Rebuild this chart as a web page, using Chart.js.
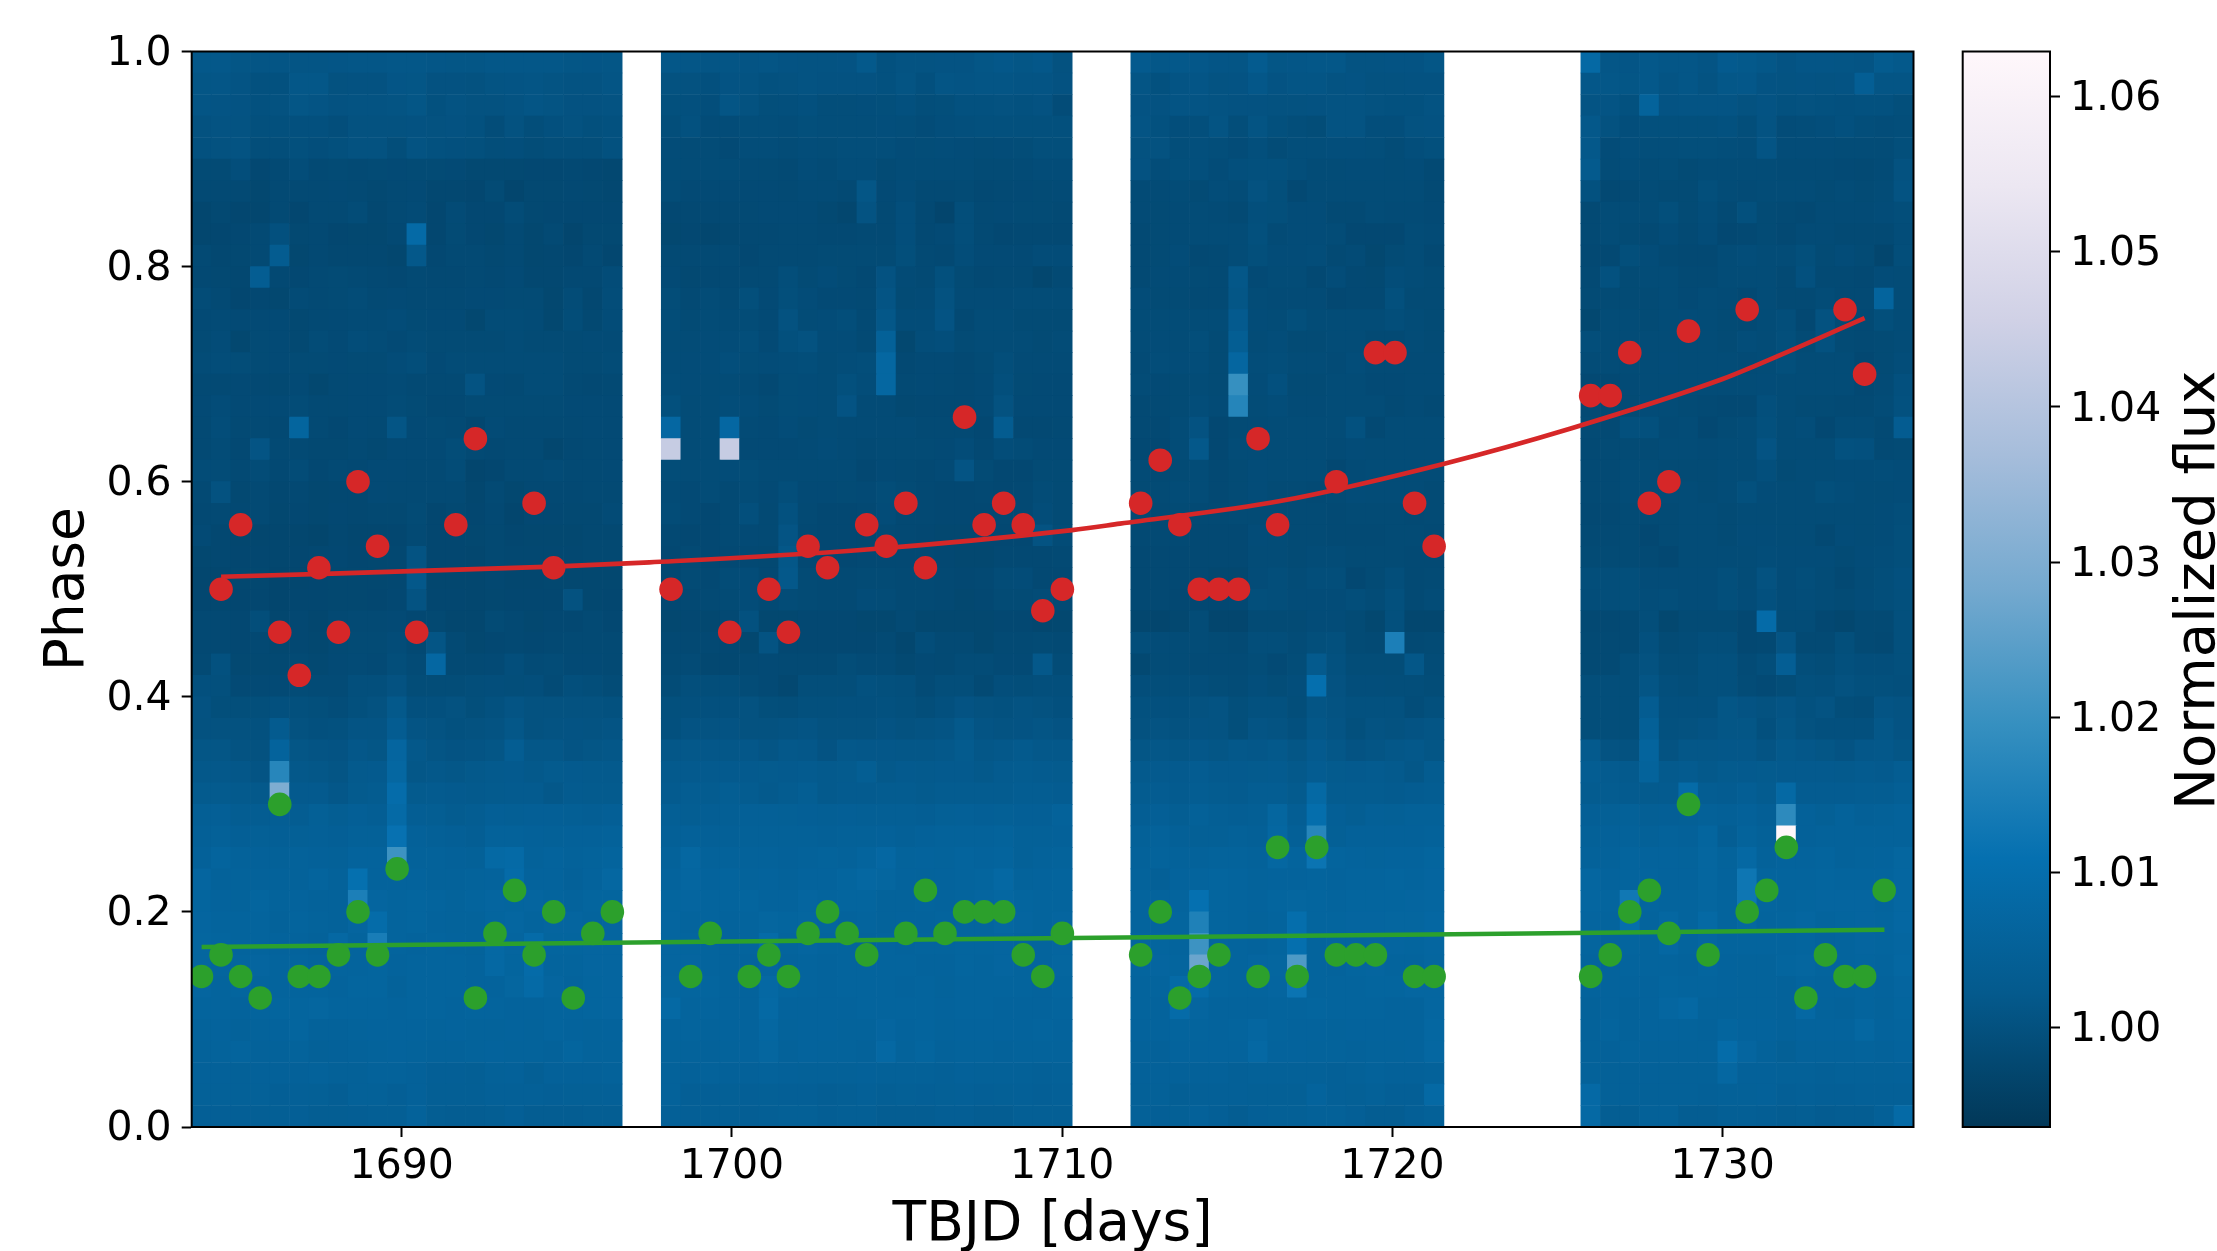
<!DOCTYPE html>
<html>
  <head>
    <meta charset="utf-8" />
    <title>Phase map</title>
    <script src="https://cdn.jsdelivr.net/npm/chart.js@4/dist/chart.umd.js"></script>
    <style>
      html, body { margin: 0; background: white; }
      canvas { position: absolute; left: 0; top: 0; }
    </style>
  </head>
  <body>
    <canvas id="mapChart" width="2217" height="1251"></canvas>
    <canvas id="barChart" width="2217" height="1251"></canvas>

    <script>
    // grid of the map: one cell per stellar rotation, 50 phase bins
    const firstTime = 1683.64;
    const cellDays = 0.5925;
    const phaseStep = 0.02;
    const blockStart = [0, 24, 48, 71]; // first cell of each data block, the rest are gaps

    // flux, as (flux - 1) * 10000, rows go from phase 1 down to phase 0
    const fluxBlock1 = [
      [18,17,12,10,9,10,10,11,13,13,15,15,13,12,12,14,15,14,15,12,11,12],
      [12,13,8,-1,0,14,15,2,3,3,11,12,3,3,2,7,8,9,7,5,5,9],
      [10,8,6,0,1,12,8,3,4,4,7,12,-1,4,1,1,4,10,7,3,3,4],
      [1,4,5,-3,-3,-2,-2,-7,1,1,2,3,2,3,-1,-10,1,-9,-2,1,-3,-1],
      [0,1,5,-8,-8,-3,-7,-3,2,2,-9,4,0,-2,-4,-9,-7,-11,-8,-8,-8,-1],
      [-16,-16,-7,-22,-18,-10,-18,-16,-19,-16,-17,-16,-16,-17,-21,-21,-21,-22,-22,-20,-22,-23],
      [-19,-19,-18,-24,-18,-18,-18,-17,-19,-21,-19,-17,-23,-23,-25,-16,-28,-21,-21,-20,-21,-23],
      [-27,-21,-25,-27,-19,-25,-19,-19,-13,-23,-19,-15,-25,-15,-22,-22,-14,-21,-22,-22,-22,-22],
      [-26,-25,-22,-18,-2,-21,-20,-25,-24,-24,-20,85,-25,-16,-22,-24,-19,-24,-18,-28,-21,-21],
      [-19,-23,-21,-19,30,-24,-20,-23,-23,-23,-26,18,-22,-19,-19,-21,-18,-24,-23,-25,-19,-25],
      [-20,-21,-23,35,-20,-22,-19,-16,-18,-20,-22,-19,-20,-20,-18,-20,-17,-23,-23,-20,-20,-12],
      [-14,-19,-25,-22,-24,-15,-18,-16,-14,-18,-17,-18,-19,-19,-17,-17,-16,-16,-24,-14,-23,-10],
      [-17,-15,-17,-17,-17,-21,-18,-17,-15,-15,-12,-16,-17,-17,-24,-14,-14,-15,-24,-11,-21,-12],
      [-16,-12,-24,-16,-17,-21,-14,-17,-10,-13,-17,-13,-16,-16,-16,-16,-13,-16,-16,-16,-15,-15],
      [-13,-10,-11,-16,-17,-16,-16,-17,-16,-16,-12,-9,-17,-13,-14,-14,-13,-13,-13,-16,-16,-13],
      [-18,-18,-17,-20,-21,-17,-24,-19,-17,-17,-15,-18,-18,-18,5,-17,-18,-14,-14,-19,-20,-19],
      [-17,-12,-17,-17,-17,-13,-18,-18,-17,-17,-13,-16,-20,-20,-16,-16,-16,-16,-16,-17,-17,-17],
      [-19,-10,-19,-19,-20,65,-18,-22,-17,-18,10,-17,-16,-18,-25,-15,-18,-18,-18,-18,-17,-17],
      [-18,-14,-20,8,-19,-19,-21,-21,-19,-21,-17,-17,-17,-11,-19,-20,-19,-18,-26,-20,-18,-17],
      [-14,-14,-19,-14,-20,-14,-22,-19,-20,-17,-17,-18,-18,-13,-28,-25,-19,-18,-15,-19,-18,-17],
      [-18,2,-21,-18,-23,-20,-24,-23,-23,-17,-19,-19,-18,-18,-27,-19,-24,-20,-20,-20,-19,-19],
      [-20,-19,-20,-18,-24,-22,-24,-22,-23,-21,-21,-16,-25,-21,-25,-20,-28,-22,-22,-21,-21,-15],
      [-17,-23,-26,-26,-26,-26,-29,-23,-26,-26,-25,-18,-25,-25,-24,-21,-25,-24,-24,-24,-21,-21],
      [-24,-23,-25,-25,-26,-25,-23,-22,-25,-24,-23,5,-25,-25,-27,-21,-23,-23,-23,-23,-21,-21],
      [-26,-26,-24,-24,-28,-26,-25,-24,-24,-24,-23,18,-26,-26,-26,-23,-26,-26,-24,-24,-24,-24],
      [-25,-24,-25,-25,-28,-25,-25,-24,-24,-25,-22,5,-25,-25,-26,-24,-25,-25,-25,2,-24,-25],
      [-20,-20,-22,-8,-26,-22,-26,-20,-18,-18,-17,-22,-21,-26,-26,-16,-20,-24,-22,-22,-18,-22],
      [-20,-20,-22,-20,-24,-22,-24,-18,-16,-16,-12,-20,10,-18,-24,-22,-20,-22,-20,-18,-18,-18],
      [-19,0,-21,-21,-21,-19,-21,-17,-15,-17,-9,-15,75,-19,-19,-17,-7,-15,-13,-17,-17,-19],
      [-2,-4,-17,-17,-17,-13,-15,-15,-5,-5,3,-11,-11,-11,-9,-7,-9,-7,-15,-5,-9,-13],
      [3,-6,-6,-6,-2,-4,-6,-10,-4,2,20,-2,-2,2,-6,0,8,2,2,2,2,0],
      [2,2,2,0,28,2,-2,0,8,8,32,8,4,0,2,4,15,2,4,6,4,8],
      [12,12,4,2,60,12,8,6,16,12,66,18,10,6,8,12,35,14,14,8,12,14],
      [18,18,16,8,170,18,14,10,22,24,72,14,18,14,20,22,24,20,26,24,22,22],
      [26,26,22,20,300,24,24,16,26,30,95,26,28,24,22,26,28,28,18,28,26,26],
      [42,44,36,34,40,36,46,38,44,40,85,40,38,30,34,44,42,44,44,42,40,44],
      [48,50,44,46,44,46,48,44,50,50,112,52,48,44,40,56,56,52,50,52,52,54],
      [52,62,54,52,50,54,52,50,60,60,205,54,56,52,50,80,85,56,60,56,58,62],
      [66,56,58,56,56,56,62,54,108,60,60,60,56,56,58,60,90,60,60,52,60,72],
      [64,60,58,64,58,60,56,54,150,66,62,64,62,58,62,66,64,66,62,60,64,64],
      [66,62,62,62,56,62,58,54,66,92,62,64,60,58,58,64,70,62,66,66,62,66],
      [68,64,62,62,60,60,56,78,62,145,62,60,62,60,58,78,66,90,64,64,66,66],
      [68,64,64,66,62,62,60,62,62,64,60,62,62,62,60,78,64,90,62,62,66,66],
      [66,62,64,62,62,62,62,60,64,64,56,62,62,62,60,60,68,85,66,60,64,66],
      [62,62,60,62,64,64,68,62,62,62,60,62,62,60,62,62,60,60,62,62,64,66],
      [58,60,56,58,60,64,54,56,58,60,60,60,58,60,58,58,60,58,62,60,58,60],
      [56,58,62,56,56,58,50,52,56,58,60,58,56,54,58,60,58,58,56,64,58,58],
      [52,52,50,52,52,52,54,50,50,54,54,52,44,44,42,50,52,42,52,52,52,54],
      [50,50,50,50,44,48,46,40,50,50,44,52,42,42,42,48,48,48,44,46,46,48],
      [44,44,44,42,42,44,38,38,40,42,42,54,38,36,34,38,44,36,36,36,38,38],
    ];

    const fluxBlock2 = [
      [14,13,9,9,8,10,6,4,4,6,20,0,4,5,6,6,12,16,12,16,1],
      [1,2,-2,6,4,-1,1,4,3,3,3,-1,7,-2,10,8,9,9,8,8,3],
      [-3,-2,-7,10,2,-6,-5,-2,-8,-8,-7,-6,-2,-9,-6,0,0,1,0,3,-12],
      [-8,0,-12,-12,-8,-8,-10,-6,-9,-8,-8,-7,-9,-12,-7,-5,-4,-3,-3,-3,-3],
      [-12,-13,-13,-17,-10,-10,-14,-10,-11,-9,-9,-9,-12,-11,-10,-12,-14,-12,-11,-6,-6],
      [-13,-14,-14,-13,-15,-16,-18,-12,-15,-10,-10,-16,-13,-14,-14,-13,-16,-16,-15,-12,-12],
      [-14,-17,-17,-17,-17,-17,-19,-15,-15,-18,12,-17,-12,-18,-18,-16,-20,-18,-17,-16,-15],
      [-22,-20,-20,-20,-19,-17,-17,-17,-21,-26,5,-18,-7,-20,-30,-8,-18,-17,-16,-16,-19],
      [-24,-22,-27,-23,-20,-20,-18,-18,-20,-20,-18,-18,-7,-20,-17,-8,-18,-22,-20,-20,-20],
      [-18,-18,-18,-18,-22,-18,-18,-18,-16,-16,-16,-16,-6,-18,-20,-10,-17,-17,-17,-12,-12],
      [-17,-21,-20,-20,-18,-19,-8,-16,-12,-16,-20,3,-15,-19,-4,-16,-20,-18,-18,-26,-18],
      [-11,-19,-14,-19,-6,-17,-6,-12,-17,-17,-18,8,-16,-15,2,-15,-15,-15,-14,-14,-14],
      [-11,-16,-13,-15,-14,-17,1,-13,-12,-8,-18,15,-12,-12,6,-20,-13,-13,-16,-16,-16],
      [-13,-13,-12,-12,-8,-17,-3,2,-12,-12,-18,50,-24,-10,-7,-16,-13,-13,-14,-16,-14],
      [-12,-12,-12,-7,-11,-12,-10,-8,-14,-10,-8,72,-20,-17,-17,-20,-16,-8,-15,-15,-15],
      [-10,-12,-14,-14,-15,-20,-11,-12,-13,-4,-10,72,-19,-17,-18,-20,-17,-5,-16,-17,-17],
      [-4,-13,-14,-10,-12,-16,-11,-12,-14,6,-15,-15,-21,-20,-20,-20,-17,2,-17,-17,-17],
      [75,-13,-14,75,-15,-17,-12,-16,-14,-15,-15,-15,-15,-18,-18,-18,-22,30,-20,-20,-18],
      [435,-14,-13,435,-17,-17,-17,-15,-12,-15,-18,-16,-16,-16,-17,-12,-20,-10,-14,-17,-17],
      [-11,-14,-13,-12,-11,-15,-15,-15,-15,-15,-22,-17,-18,-20,-17,8,-16,-22,-22,-16,-16],
      [-15,-17,-13,-18,-14,-17,-9,-17,-17,-16,-17,-11,-16,-20,-22,-22,-20,-22,-20,-14,-16],
      [-14,-17,-22,-19,-5,-19,0,-18,-22,-22,-20,-12,-20,-20,-22,-22,-22,-20,-20,-10,-16],
      [-20,-22,-22,-19,-17,-19,8,-20,-22,-22,-24,-19,-20,-22,-24,-24,-22,-22,-22,5,-14],
      [-22,-18,-22,-20,-20,-21,15,-20,-22,-22,-20,-20,-20,-20,-22,-24,-24,-20,-20,-20,-18],
      [-22,-16,-20,-14,-12,-20,18,-16,-18,-18,-16,-16,-18,-18,-20,-22,-20,-14,-12,-20,-20],
      [-22,-20,-18,-16,-12,-18,-14,-16,-18,-18,-12,-14,-18,-18,-20,-24,-22,-16,-16,-14,-18],
      [-24,-22,-24,-20,0,-24,-24,-22,-22,-22,-24,-24,-18,-24,-24,-24,-24,-22,-22,-26,-24],
      [-20,-20,-20,-22,-24,5,-22,-22,-22,-22,-22,-18,-26,-10,-18,-18,-24,-18,-18,-16,-18],
      [-19,-15,-23,-23,-19,-17,-19,-19,-19,-11,-15,-15,-21,-17,-19,-13,-13,-17,-17,18,-13],
      [-13,-5,-9,-9,-13,-17,-23,-9,-9,-9,-1,-3,-5,-15,-9,-9,-19,-7,-9,-5,-5],
      [-4,-2,-2,-2,2,-6,-8,-4,-4,-2,-2,0,-4,-8,-2,6,2,0,4,2,-2],
      [-2,6,4,6,2,2,4,8,2,2,2,6,2,4,8,20,8,4,6,10,6],
      [14,18,16,14,16,10,18,16,6,18,16,16,14,14,18,26,14,18,22,18,18],
      [22,24,24,24,24,26,24,28,22,26,38,20,24,22,24,24,20,28,30,28,26],
      [28,34,30,38,30,22,30,38,22,28,28,30,30,26,30,30,30,30,36,36,32],
      [42,38,40,42,48,48,46,44,42,44,42,42,42,40,46,48,44,46,44,44,56],
      [48,52,48,48,50,50,50,50,48,50,50,52,48,52,54,56,56,58,50,50,52],
      [54,72,56,54,56,54,52,56,58,56,62,74,58,60,58,62,60,62,50,54,58],
      [60,70,60,62,58,60,56,60,60,64,72,68,60,58,60,62,64,78,58,60,62],
      [64,66,62,62,64,60,60,66,62,64,64,58,58,62,60,62,66,72,64,62,62],
      [66,62,62,60,62,68,64,68,64,60,62,58,60,60,62,64,64,72,66,62,66],
      [66,64,62,60,62,88,62,66,62,62,60,62,60,62,62,64,64,66,62,62,66],
      [66,66,62,60,60,66,60,62,60,62,62,62,62,60,60,64,62,66,62,62,68],
      [68,64,64,60,60,78,64,62,60,62,62,62,60,62,58,62,62,62,62,60,64],
      [80,62,62,60,60,80,60,60,60,60,62,62,62,62,60,62,62,60,60,60,62],
      [60,62,58,60,60,72,58,60,60,58,58,66,60,62,58,60,60,60,60,62,60],
      [58,58,56,58,60,68,56,60,58,58,56,78,58,64,56,58,58,56,58,58,58],
      [56,52,54,52,52,54,52,50,50,50,52,50,50,50,48,52,50,50,50,48,50],
      [54,44,44,46,44,46,44,44,40,42,48,42,46,44,46,48,44,46,48,44,48],
      [48,44,42,42,40,42,46,46,40,42,42,36,36,36,40,40,34,36,42,42,42],
    ];

    const fluxBlock3 = [
      [24,15,17,16,11,9,28,12,13,14,15,4,5,6,6,12],
      [10,0,8,11,5,6,16,6,10,10,4,6,1,2,3,3],
      [6,3,8,8,4,3,3,1,2,3,4,5,2,0,0,4],
      [8,-1,-7,-5,7,-8,7,-4,-8,-11,4,4,-7,-7,1,3],
      [2,2,-8,-5,-9,-12,-5,-14,-9,-8,-7,-7,-9,-14,-7,-4],
      [3,-10,-6,-5,-12,-5,-3,-4,-8,-14,-14,-12,-12,-14,-12,-18],
      [-15,-15,-14,-16,-10,-14,2,-6,-20,-14,-14,-14,-14,-14,-14,-18],
      [-15,-16,-15,-14,-15,-19,-5,-6,-12,-12,-18,-18,-14,-15,-15,-17],
      [-18,-16,-15,-13,-13,-14,-4,-15,-12,-12,-14,-22,-22,-22,-13,-15],
      [-18,-16,-12,-20,-18,-14,-6,-12,-12,-10,-18,-15,-24,-16,-14,-20],
      [-19,-15,-15,-16,-18,15,-17,-14,-14,-20,-12,-20,-21,-10,-14,-16],
      [-12,-16,-16,-19,-18,12,-14,-15,-15,-15,-22,-20,-20,-4,-16,-16],
      [-13,-14,-14,-14,-14,24,-12,-14,-6,-14,-14,-14,-14,-9,-14,-16],
      [-14,-12,-14,-8,-16,38,-14,-10,-16,-16,-14,-14,-18,-18,-14,-16],
      [-15,-10,-12,-10,-16,70,-10,-8,-14,-14,-15,-10,-15,-15,-15,-15],
      [-14,-17,-16,-13,-16,195,-12,-2,-16,-16,-14,-14,-17,-17,-15,-15],
      [-18,-18,-16,-10,-15,165,-13,-10,-15,-15,-14,-14,-14,-18,-15,-18],
      [-18,-20,-14,3,-22,-16,-15,-14,-14,-14,-14,0,-20,-14,-14,-14],
      [-20,-22,-14,18,-22,-14,-14,-14,-14,-14,-15,-12,-14,-14,-14,-14],
      [-15,-19,-16,-14,-20,-16,-12,-14,-14,-14,-22,-15,-14,-14,-14,-14],
      [-16,-16,-14,-14,-20,-16,-12,-16,-16,-18,-16,-12,-14,-14,-14,-16],
      [-18,-18,-16,-18,-19,-16,-16,-16,-16,-16,-18,-16,-16,-16,-18,-16],
      [-18,-18,-18,-20,-20,-20,-12,-14,-16,-16,-18,-18,-18,-16,-16,-18],
      [-20,-20,-20,-20,-20,-20,-14,-14,-16,-14,-14,-16,-16,-16,-18,-18],
      [-20,-20,-20,-20,-24,-24,-12,-8,-14,-8,-8,-22,-16,-8,-18,-16],
      [-20,-20,-22,-22,-22,-20,-6,-8,-12,-12,-12,-8,-14,-4,-18,-14],
      [-26,-28,-24,-14,-28,-28,-16,-16,-16,-12,-12,-16,-24,-4,-26,-26],
      [-8,-12,-14,-14,-16,-18,-8,-8,-14,-6,-4,-16,-18,150,-18,-16],
      [-21,-13,-13,-15,-15,-15,-11,-17,-11,22,-1,-11,-11,-11,14,-13],
      [-7,-9,-9,-7,-11,-13,-7,-11,-7,105,3,-7,-7,-9,-9,-11],
      [0,-2,-2,2,4,-6,0,0,-8,10,4,0,0,0,-10,-4],
      [2,4,2,6,4,-6,8,4,-2,14,8,-4,4,2,6,10],
      [12,14,12,16,12,18,16,20,12,24,14,6,10,14,18,12],
      [22,24,24,32,24,24,26,28,20,32,26,24,28,22,14,30],
      [30,32,28,34,30,28,34,36,26,80,30,30,30,28,32,34],
      [40,44,38,50,42,40,42,68,40,100,44,38,48,46,50,50],
      [50,54,48,46,46,50,48,72,48,170,46,52,52,52,52,56],
      [54,58,54,54,58,58,54,72,62,120,62,60,58,60,60,64],
      [58,48,60,62,64,62,58,60,60,62,60,62,62,64,62,66],
      [62,60,62,110,64,62,60,64,68,64,62,64,64,64,66,70],
      [62,62,64,155,64,62,58,62,100,64,64,66,66,68,68,74],
      [64,64,62,205,64,62,60,64,105,62,64,64,66,66,64,70],
      [64,66,64,270,64,62,66,68,230,62,60,64,66,62,62,68],
      [62,62,84,90,64,62,62,66,120,62,62,62,64,64,70,70],
      [62,60,90,66,60,60,60,62,62,64,62,62,62,60,60,70],
      [60,60,62,62,60,62,70,62,60,60,58,60,60,60,60,72],
      [56,52,60,60,60,60,76,60,60,58,58,56,58,58,60,72],
      [52,52,52,52,52,48,50,50,50,50,48,50,56,52,52,56],
      [50,50,42,48,48,48,46,46,46,60,48,46,50,44,44,80],
      [50,44,46,52,44,36,44,46,46,50,50,44,36,36,44,50],
    ];

    const fluxBlock4 = [
      [80,13,11,18,13,13,8,24,20,14,6,11,11,10,8,25,20],
      [16,15,12,17,8,13,4,14,16,6,4,6,4,6,40,10,10],
      [8,8,0,58,6,8,8,8,2,6,0,2,0,-2,0,-1,-6],
      [18,2,-7,-3,-3,-3,-3,0,-8,4,-12,-10,-7,-2,-8,-10,-8],
      [18,-12,-7,-8,-8,-6,-6,-9,-10,8,-12,-12,-12,-14,-14,-14,-6],
      [22,-14,-10,-14,-11,-16,-14,-14,-14,-14,-15,-15,-15,-17,-18,-15,2],
      [0,-20,-18,-14,-16,-16,-6,-14,-15,-14,-14,-14,-16,-14,-16,-14,4],
      [-18,-14,-14,-14,-6,-16,-10,-18,-4,-16,-18,-20,-15,-15,-15,-12,-8],
      [-18,-14,-16,-18,-12,-18,-12,-22,-20,-16,-20,-15,-15,-18,-18,-18,-10],
      [-20,-20,-6,-12,-18,-20,-20,-14,-10,-13,-14,-6,-16,-12,-16,-28,-8],
      [-18,0,-16,-13,-14,-18,-18,-14,-14,-14,-18,-2,-18,-18,-20,-12,-14],
      [-16,-16,-16,-16,-14,-17,-14,-15,-20,-14,-18,-18,-14,-18,-18,62,-14],
      [-24,-14,-14,-16,-14,-12,-14,-16,-18,-14,-8,-22,2,-16,-18,-6,-14],
      [-8,-14,-14,-14,-14,-14,-14,-16,-10,-14,-6,-16,0,-16,-18,-16,-14],
      [-14,-14,-14,-14,-12,-14,-14,-14,-15,-14,-6,-14,-14,-14,-22,-16,-10],
      [-20,-20,-15,-14,-14,-14,-14,-14,-14,-12,-14,-14,-14,-14,-20,-15,-2],
      [-18,-18,-16,-12,-14,-16,-18,-20,-20,-5,-14,-16,-16,-18,-18,-14,0],
      [-16,-18,-4,-4,-15,-14,-22,-16,-14,-4,-14,-10,-22,-14,-14,-18,32],
      [-18,-16,-16,-16,-14,-14,-15,-14,-14,6,-14,-14,-14,0,-2,-18,-16],
      [-18,-18,-14,-14,-16,-16,-16,-14,-14,-5,-16,-14,-14,-12,-12,-10,-12],
      [-18,-18,-14,-14,-14,-14,-16,-14,-4,-12,-14,-14,-6,-10,-14,-14,-12],
      [-20,-20,-16,-16,-16,-14,-14,-16,-14,-14,-14,-14,-14,-14,-14,-12,-8],
      [-18,-18,-16,-22,-16,-14,-14,-16,-12,-12,-14,-14,-20,-12,-14,-12,-6],
      [-16,-16,-16,-18,-22,-14,-14,-14,-14,-10,-12,-12,-12,-16,-12,-10,-6],
      [-8,-8,-6,-12,-12,-12,-12,-6,-14,2,-12,-8,-14,-20,-14,-8,-2],
      [-10,-8,-6,-10,-8,-12,-12,-6,-12,-2,-12,-10,-14,-16,-12,-8,-4],
      [-20,-20,-18,-8,-24,-16,-16,-16,-22,90,-14,-14,-22,-26,-18,-18,-4],
      [-18,-18,-18,-2,-16,-14,-8,-8,-22,-20,8,-18,-18,-6,-18,-20,-4],
      [-19,-19,-9,1,-11,-11,-3,-3,-15,-9,40,-9,-11,-3,-7,-7,-3],
      [-9,-9,-9,10,-5,-9,-3,-3,-13,-17,-11,-3,-5,1,-3,-3,-5],
      [-8,-8,-8,32,-2,-2,-2,12,6,2,8,0,4,-8,-10,8,4],
      [-8,-8,-8,48,0,2,6,12,12,-2,12,2,-2,-2,-2,14,6],
      [22,4,2,62,4,14,14,16,16,8,20,16,12,6,16,18,12],
      [34,28,22,58,22,28,20,26,24,26,24,24,24,22,28,24,36],
      [30,30,28,26,28,88,34,32,40,30,80,32,32,32,34,34,42],
      [44,46,50,42,44,46,50,48,52,44,180,52,46,54,48,50,54],
      [50,52,54,50,56,52,64,40,58,50,629,52,56,56,54,54,56],
      [56,56,62,60,60,58,68,58,76,56,60,60,62,56,58,60,68],
      [70,60,62,62,60,60,68,60,125,62,62,62,64,62,62,62,70],
      [70,64,130,64,62,62,68,62,125,64,62,64,66,66,66,62,72],
      [66,62,100,62,72,62,80,62,72,62,64,70,62,64,66,64,74],
      [64,60,64,62,74,62,70,62,62,62,62,64,60,62,66,64,70],
      [62,60,62,62,62,60,64,60,58,58,64,68,62,62,64,62,72],
      [60,60,60,60,64,62,62,60,58,58,56,62,60,60,62,60,66],
      [56,60,56,60,70,78,58,58,58,58,56,78,58,56,62,58,64],
      [54,62,56,60,60,58,54,64,60,60,54,60,60,60,72,60,62],
      [54,52,58,54,54,56,54,92,66,56,46,54,54,54,58,56,60],
      [56,50,50,52,50,50,50,72,52,52,50,50,48,50,50,50,52],
      [82,50,50,50,50,50,48,50,50,52,44,48,44,44,48,48,48],
      [80,38,38,50,50,36,34,42,42,40,36,38,32,34,36,48,84],
    ];

    // red and green spots, cell number and phase of each
    const redCell = [1,2,4,5,6,7,8,9,11,13,14,17,18,24,27,29,30,31,32,34,35,36,37,39,40,41,42,43,44,48,49,50,51,52,53,54,55,58,60,61,62,63,71,72,73,74,75,76,79,84,85];
    const redPhase = [0.5,0.56,0.46,0.42,0.52,0.46,0.6,0.54,0.46,0.56,0.64,0.58,0.52,0.5,0.46,0.5,0.46,0.54,0.52,0.56,0.54,0.58,0.52,0.66,0.56,0.58,0.56,0.48,0.5,0.58,0.62,0.56,0.5,0.5,0.5,0.64,0.56,0.6,0.72,0.72,0.58,0.54,0.68,0.68,0.72,0.58,0.6,0.74,0.76,0.76,0.7];
    const greenCell = [0,1,2,3,4,5,6,7,8,9,10,14,15,16,17,18,19,20,21,25,26,28,29,30,31,32,33,34,36,37,38,39,40,41,42,43,44,48,49,50,51,52,54,55,56,57,58,59,60,62,63,71,72,73,74,75,76,77,79,80,81,82,83,84,85,86];
    const greenPhase = [0.14,0.16,0.14,0.12,0.3,0.14,0.14,0.16,0.2,0.16,0.24,0.12,0.18,0.22,0.16,0.2,0.12,0.18,0.2,0.14,0.18,0.14,0.16,0.14,0.18,0.2,0.18,0.16,0.18,0.22,0.18,0.2,0.2,0.2,0.16,0.14,0.18,0.16,0.2,0.12,0.14,0.16,0.14,0.26,0.14,0.26,0.16,0.16,0.16,0.14,0.14,0.14,0.16,0.2,0.22,0.18,0.3,0.16,0.2,0.22,0.26,0.12,0.16,0.14,0.14,0.22];

    // fitted migration tracks
    const redFitTime = [1684.53,1694.6,1697.5,1703.9,1710.3,1711.75,1716.6,1721.6,1725.4,1730,1731,1734.3];
    const redFitPhase = [0.5116,0.521,0.525,0.5365,0.555,0.561,0.582,0.617,0.6495,0.6955,0.708,0.752];
    const greenFitTime = [1683.94,1698.5,1710.3,1722.6,1734.9];
    const greenFitPhase = [0.1673,0.172,0.1757,0.1794,0.1834];

    const timeTicks = [1690, 1700, 1710, 1720, 1730];
    const phaseTicks = [0, 0.2, 0.4, 0.6, 0.8, 1];
    const fluxTicks = [1.0, 1.01, 1.02, 1.03, 1.04, 1.05, 1.06];

    const fluxMin = 0.9936;
    const fluxMax = 1.0629;
    const cmapColors = [[2,56,88],[4,90,141],[5,112,176],[54,144,192],[116,169,207],[166,189,219],[208,209,230],[236,231,242],[255,247,251]]; // PuBu reversed

    function fluxColor(flux) {
      let pos = (flux - fluxMin) / (fluxMax - fluxMin) * (cmapColors.length - 1);
      pos = Math.max(0, Math.min(cmapColors.length - 1.001, pos));
      const i = Math.floor(pos);
      const f = pos - i;
      const c = cmapColors[i].map((v, k) => Math.round(v + (cmapColors[i + 1][k] - v) * f));
      return "rgb(" + c[0] + "," + c[1] + "," + c[2] + ")";
    }

    function cellTime(cell) {
      return firstTime + (cell + 0.5) * cellDays;
    }

    function toPoints(xs, ys) {
      return xs.map((x, i) => ({ x: x, y: ys[i] }));
    }

    // every flux cell becomes one floating bar
    const heatCells = [];
    const heatColors = [];
    [fluxBlock1, fluxBlock2, fluxBlock3, fluxBlock4].forEach((block, b) => {
      block.forEach((row, r) => {
        const low = 1 - (r + 1) * phaseStep;
        row.forEach((value, c) => {
          heatCells.push({ x: cellTime(blockStart[b] + c), y: [low, low + phaseStep] });
          heatColors.push(fluxColor(1 + value / 10000));
        });
      });
    });

    const tickFont = { family: "DejaVu Sans", size: 41 };
    const titleFont = { family: "DejaVu Sans", size: 55 };

    // closes the box round the plot, like a matplotlib spine
    const framePlugin = {
      id: "frame",
      afterDraw(chart) {
        const a = chart.chartArea;
        const ctx = chart.ctx;
        ctx.save();
        ctx.strokeStyle = "black";
        ctx.lineWidth = 2;
        ctx.strokeRect(a.left, a.top, a.right - a.left, a.bottom - a.top);
        ctx.restore();
      },
    };

    new Chart(document.getElementById("mapChart"), {
      type: "bar",
      data: {
        datasets: [
          {
            type: "scatter",
            label: "Red spots",
            data: toPoints(redCell.map(cellTime), redPhase),
            backgroundColor: "#d62728",
            pointRadius: 11.8,
            pointBorderWidth: 0,
            order: 1,
          },
          {
            type: "scatter",
            label: "Green spots",
            data: toPoints(greenCell.map(cellTime), greenPhase),
            backgroundColor: "#2ca02c",
            pointRadius: 11.8,
            pointBorderWidth: 0,
            order: 2,
          },
          {
            type: "line",
            label: "Red fit",
            data: toPoints(redFitTime, redFitPhase),
            borderColor: "#d62728",
            borderWidth: 4.6,
            pointRadius: 0,
            cubicInterpolationMode: "monotone",
            order: 3,
          },
          {
            type: "line",
            label: "Green fit",
            data: toPoints(greenFitTime, greenFitPhase),
            borderColor: "#2ca02c",
            borderWidth: 4.6,
            pointRadius: 0,
            order: 4,
          },
          {
            type: "bar",
            label: "Flux",
            data: heatCells,
            backgroundColor: heatColors,
            barPercentage: 1,
            categoryPercentage: 1,
            borderWidth: 0,
            order: 5,
          },
        ],
      },
      options: {
        responsive: false,
        animation: false,
        devicePixelRatio: 1,
        layout: { padding: { left: 0, top: 51.5, right: 303.5, bottom: 0 } },
        plugins: { legend: { display: false }, tooltip: { enabled: false } },
        scales: {
          x: {
            type: "linear",
            min: firstTime,
            max: firstTime + 88 * cellDays,
            offset: false,
            afterFit: (s) => { s.height = 124; },
            afterBuildTicks: (s) => { s.ticks = timeTicks.map((v) => ({ value: v })); },
            border: { color: "black", width: 2 },
            grid: { offset: false, drawOnChartArea: false, tickLength: 10, tickWidth: 2, tickColor: "black" },
            ticks: { font: tickFont, color: "black", padding: 6, maxRotation: 0, autoSkip: false, callback: (v) => String(v) },
            title: { display: true, text: "TBJD [days]", font: titleFont, color: "black", padding: { top: 0, bottom: -8 } },
          },
          y: {
            min: 0,
            max: 1,
            afterFit: (s) => { s.width = 191.7; },
            afterBuildTicks: (s) => { s.ticks = phaseTicks.map((v) => ({ value: v })); },
            border: { color: "black", width: 2 },
            grid: { drawOnChartArea: false, tickLength: 10, tickWidth: 2, tickColor: "black" },
            ticks: { font: tickFont, color: "black", padding: 10, labelOffset: 2.5, autoSkip: false, callback: (v) => v.toFixed(1) },
            title: { display: true, text: "Phase", font: titleFont, color: "black", padding: { top: 36, bottom: 0 } },
          },
        },
      },
      plugins: [framePlugin],
    });

    // colour bar: one floating bar filled with the colour map
    const fluxTitlePlugin = {
      id: "fluxTitle",
      afterDraw(chart) {
        const a = chart.chartArea;
        const ctx = chart.ctx;
        ctx.save();
        ctx.translate(2199, (a.top + a.bottom) / 2 + 1);
        ctx.rotate(-Math.PI / 2);
        ctx.font = "56px 'DejaVu Sans'";
        ctx.fillStyle = "black";
        ctx.textAlign = "center";
        ctx.textBaseline = "middle";
        ctx.fillText("Normalized flux", 0, 0);
        ctx.restore();
      },
    };

    new Chart(document.getElementById("barChart"), {
      type: "bar",
      data: {
        labels: ["flux"],
        datasets: [
          {
            data: [[fluxMin, fluxMax]],
            barPercentage: 1,
            categoryPercentage: 1,
            borderWidth: 0,
            backgroundColor(ctx) {
              const area = ctx.chart.chartArea;
              if (!area) return "#045a8d";
              const grad = ctx.chart.ctx.createLinearGradient(0, area.bottom, 0, area.top);
              cmapColors.forEach((c, i) => {
                grad.addColorStop(i / (cmapColors.length - 1), "rgb(" + c.join(",") + ")");
              });
              return grad;
            },
          },
        ],
      },
      options: {
        responsive: false,
        animation: false,
        devicePixelRatio: 1,
        layout: { padding: { left: 1962.7, top: 51.5, right: 0, bottom: 124 } },
        plugins: { legend: { display: false }, tooltip: { enabled: false } },
        scales: {
          x: { display: false },
          y: {
            position: "right",
            min: fluxMin,
            max: fluxMax,
            afterFit: (s) => { s.width = 167; },
            afterBuildTicks: (s) => { s.ticks = fluxTicks.map((v) => ({ value: v })); },
            border: { color: "black", width: 2 },
            grid: { drawOnChartArea: false, tickLength: 10, tickWidth: 2, tickColor: "black" },
            ticks: { font: tickFont, color: "black", padding: 10, labelOffset: 3, autoSkip: false, callback: (v) => v.toFixed(2) },
          },
        },
      },
      plugins: [framePlugin, fluxTitlePlugin],
    });
    </script>
  </body>
</html>
